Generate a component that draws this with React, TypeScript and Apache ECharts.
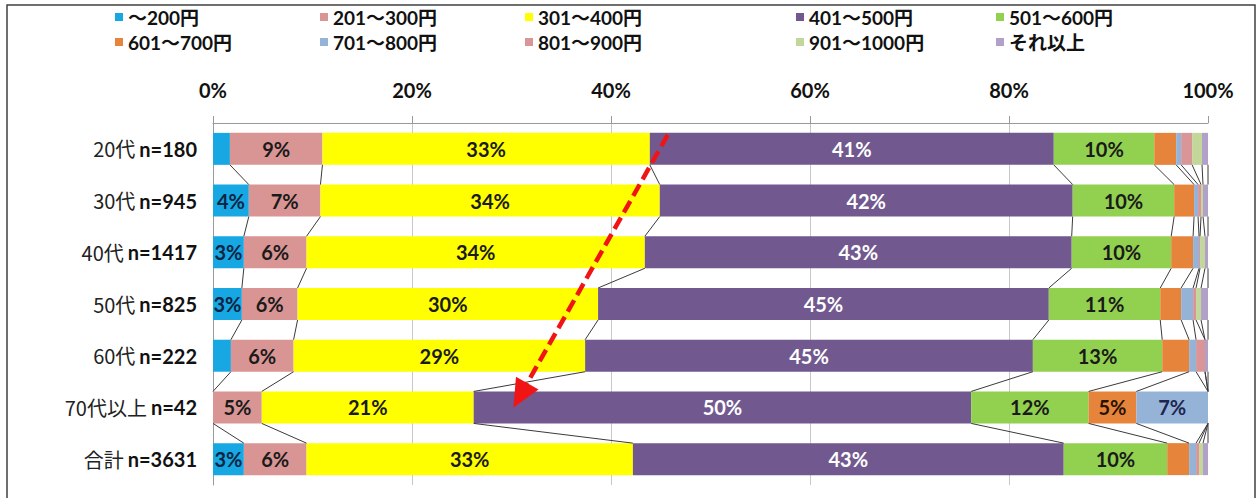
import React, { useEffect, useRef } from "react";
import * as echarts from "echarts";

const categories = ["20代", "30代", "40代", "50代", "60代", "70代以上", "合計"];
const sampleSizes = [180, 945, 1417, 825, 222, 42, 3631];
const seriesNames = [
  "～200円", "201～300円", "301～400円", "401～500円", "501～600円",
  "601～700円", "701～800円", "801～900円", "901～1000円", "それ以上",
];
const seriesColors = [
  "#17a8e3", "#d99594", "#ffff00", "#715990", "#92d050",
  "#e6843c", "#95b3d7", "#da9598", "#c4d79b", "#b1a0c7",
];
const labelColors = [
  "#0b2545", "#1a1a1a", "#1a1a1a", "#ffffff", "#1a1a1a",
  "#2a1200", "#1c2650", "#1a1a1a", "#1a1a1a", "#1a1a1a",
];
const upTo200 = [1.7, 3.6, 3.1, 2.9, 1.8, 0, 3.1];
const y201to300 = [9.3, 7.2, 6.3, 5.6, 6.3, 4.9, 6.3];
const y301to400 = [32.9, 34.1, 34.0, 30.2, 29.3, 21.3, 32.8];
const y401to500 = [40.6, 41.5, 42.9, 45.3, 45.0, 50.0, 43.3];
const y501to600 = [10.1, 10.2, 10.0, 11.2, 13.0, 11.8, 10.4];
const y601to700 = [2.2, 2.0, 2.2, 2.1, 2.7, 4.8, 2.2];
const y701to800 = [0.5, 0.4, 0.6, 1.2, 0.7, 7.2, 0.7];
const y801to900 = [1.1, 0.3, 0.1, 0.3, 0.9, 0, 0.3];
const y901to1000 = [1.0, 0.2, 0.5, 0.5, 0, 0, 0.4];
const over1000 = [0.6, 0.5, 0.3, 0.7, 0.3, 0, 0.5];
const seriesValues = [
  upTo200, y201to300, y301to400, y401to500, y501to600,
  y601to700, y701to800, y801to900, y901to1000, over1000,
];
const xTicks = [0, 20, 40, 60, 80, 100];
// annotation arrow in data space: [x%, categoryIndex]
const arrowFrom = [45.7, 0];
const arrowTo = [30.2, 5];

const NUM_FONT = "Lato, 'Noto Sans CJK JP', sans-serif";
const JP_FONT = "'Noto Sans CJK JP', sans-serif";
const BAR_H = 32;

export default function App() {
  const ref = useRef<HTMLDivElement>(null);

  useEffect(() => {
    if (!ref.current) return;
    const chart = echarts.init(ref.current, null, { renderer: "svg" });

    const cum = categories.map((_, i) => {
      let s = 0;
      return seriesValues.map((arr) => (s += arr[i]));
    });
    const seriesLineData: number[][] = [];
    for (let i = 0; i < categories.length - 1; i++) {
      for (let k = 0; k < seriesValues.length; k++) {
        seriesLineData.push([cum[i][k], i, cum[i + 1][k]]);
      }
    }

    const legendCols = [115, 320, 525, 796, 996];
    const legendRows = [7, 32];

    const barSeries = seriesNames.map((name, k) => ({
      name,
      type: "bar",
      stack: "total",
      barWidth: BAR_H,
      data: seriesValues[k],
      itemStyle: { color: seriesColors[k] },
      label: {
        show: true,
        position: "inside",
        formatter: (p: any) => (p.value >= 2.8 ? Math.round(p.value) + "%" : ""),
        fontSize: 20,
        fontWeight: "bold",
        fontFamily: NUM_FONT,
        color: labelColors[k],
      },
      z: 2,
    }));

    const option: any = {
      animation: false,
      backgroundColor: "#ffffff",
      graphic: [
        {
          type: "rect",
          silent: true,
          shape: { x: 7, y: 5, width: 1248, height: 520 },
          style: { fill: "none", stroke: "#404040", lineWidth: 1.5 },
        },
      ],
      legend: seriesNames.map((name, k) => ({
        data: [name],
        left: legendCols[k % 5],
        top: legendRows[Math.floor(k / 5)],
        padding: 0,
        icon: "rect",
        itemWidth: 8,
        itemHeight: 8,
        selectedMode: false,
        textStyle: {
          fontSize: 19,
          fontWeight: "bold",
          fontFamily: NUM_FONT,
          color: "#111",
          lineHeight: 20,
        },
      })),
      grid: { left: 213, top: 123, width: 995, height: 362, containLabel: false },
      xAxis: {
        type: "value",
        position: "top",
        min: xTicks[0],
        max: xTicks[xTicks.length - 1],
        interval: xTicks[1] - xTicks[0],
        axisLine: { show: true, lineStyle: { color: "#9a9a9a", width: 1 } },
        axisTick: { show: true, length: 7, lineStyle: { color: "#9a9a9a" } },
        splitLine: {
          show: true,
          showMinLine: false,
          showMaxLine: false,
          lineStyle: { color: "#c8c8c8", width: 1 },
        },
        axisLabel: {
          formatter: "{value}%",
          margin: 23,
          fontSize: 20,
          fontWeight: "bold",
          fontFamily: NUM_FONT,
          color: "#111",
        },
      },
      yAxis: {
        type: "category",
        inverse: true,
        data: categories,
        axisLine: { show: true, lineStyle: { color: "#9a9a9a", width: 1 } },
        axisTick: { show: false },
        axisLabel: {
          margin: 16,
          formatter: (v: string, i: number) => `{a|${v}}{b|n=${sampleSizes[i]}}`,
          rich: {
            a: { fontFamily: JP_FONT, fontSize: 20, color: "#222" },
            b: {
              fontFamily: NUM_FONT,
              fontSize: 20,
              fontWeight: "bold",
              color: "#111",
              padding: [0, 0, 0, 4],
            },
          },
        },
      },
      series: [
        ...barSeries,
        {
          type: "custom",
          name: "seriesLines",
          data: seriesLineData,
          encode: { x: 0, y: 1 },
          z: 3,
          silent: true,
          renderItem: (params: any, api: any) => {
            const a = api.coord([api.value(0), api.value(1)]);
            const b = api.coord([api.value(2), api.value(1) + 1]);
            return {
              type: "line",
              shape: { x1: a[0], y1: a[1] + BAR_H / 2, x2: b[0], y2: b[1] - BAR_H / 2 },
              style: { stroke: "#3a3a3a", lineWidth: 1 },
            };
          },
        },
        {
          type: "custom",
          name: "arrow",
          data: [[arrowFrom[0], arrowFrom[1], arrowTo[0], arrowTo[1]]],
          encode: { x: 0, y: 1 },
          z: 5,
          silent: true,
          renderItem: (params: any, api: any) => {
            const band = api.size([0, 1])[1];
            const p0 = api.coord([api.value(0), api.value(1)]);
            p0[1] -= band * 0.27;
            const p1 = api.coord([api.value(2), api.value(3)]);
            const dx = p1[0] - p0[0];
            const dy = p1[1] - p0[1];
            const len = Math.sqrt(dx * dx + dy * dy);
            const ux = dx / len;
            const uy = dy / len;
            const L = 28;
            const W = 13;
            const bx = p1[0] - ux * L;
            const by = p1[1] - uy * L;
            return {
              type: "group",
              children: [
                {
                  type: "line",
                  shape: { x1: p0[0], y1: p0[1], x2: bx + ux * 2, y2: by + uy * 2 },
                  style: { stroke: "#f01414", lineWidth: 4.5, lineDash: [13, 6] },
                },
                {
                  type: "polygon",
                  shape: {
                    points: [
                      [p1[0], p1[1]],
                      [bx - uy * W, by + ux * W],
                      [bx + uy * W, by - ux * W],
                    ],
                  },
                  style: { fill: "#f01414" },
                },
              ],
            };
          },
        },
      ],
    };

    chart.setOption(option);
    return () => chart.dispose();
  }, []);

  return (
    <div
      ref={ref}
      style={{ position: "absolute", left: 0, top: 0, width: 1260, height: 498, background: "#fff" }}
    />
  );
}
